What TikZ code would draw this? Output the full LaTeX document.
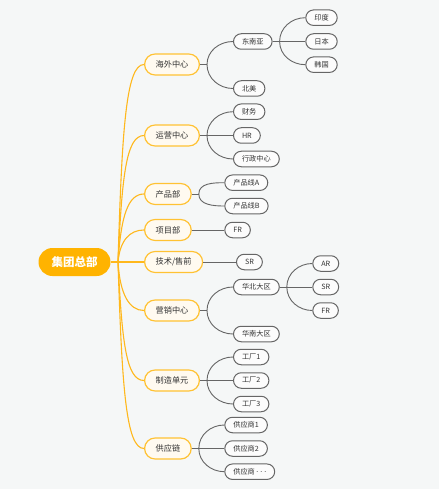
\documentclass[tikz,border=0pt]{standalone}
\usepackage{fontspec}
\setmainfont{Noto Sans CJK SC}
\newfontfamily\latinf{Noto Sans}
\definecolor{bg}{HTML}{F5F7F7}
\definecolor{rootfill}{HTML}{FFB300}
\definecolor{lonefill}{HTML}{FFFAF0}
\definecolor{loneborder}{HTML}{FFC233}
\definecolor{oline}{HTML}{FFB81C}
\definecolor{gline}{HTML}{666666}
\definecolor{txt}{HTML}{333333}
\definecolor{ltwofill}{HTML}{FCFCFC}
\tikzset{
  rootbox/.style={draw=none, fill=rootfill, rounded corners=14pt, minimum height=28pt, inner xsep=13pt, inner ysep=0pt, text=white, font=\fontsize{11.5}{13}\selectfont\bfseries},
  lonebox/.style={draw=loneborder, line width=1.2pt, fill=lonefill, rounded corners=10.5pt, minimum height=21pt, inner xsep=11pt, inner ysep=0pt, text=txt, font=\fontsize{8.2}{10}\selectfont, anchor=west},
  ltwobox/.style={draw=gline, line width=1pt, fill=ltwofill, rounded corners=7.75pt, minimum height=15.5pt, inner xsep=8.5pt, inner ysep=0pt, text=txt, font=\fontsize{7.2}{9}\selectfont, anchor=west},
  oconn/.style={draw=oline, line width=1.1pt},
  gconn/.style={draw=gline, line width=0.9pt},
}
\begin{document}
\begin{tikzpicture}[x=1pt,y=-1pt]
\useasboundingbox[fill=bg] (0,0) rectangle (439,489);
% root
\node[rootbox] (root) at (74.5,262) {集团总部};
\coordinate (hub) at (118,262);
% level 1
\node[lonebox] (haiwai) at (144,64.5) {海外中心};
\node[lonebox] (yunying) at (144,135.5) {运营中心};
\node[lonebox] (chanpin) at (144,194) {产品部};
\node[lonebox] (xiangmu) at (144,230) {项目部};
\node[lonebox] (jishu) at (144,262) {技术/售前};
\node[lonebox] (yingxiao) at (144,310.5) {营销中心};
\node[lonebox] (zhizao) at (144,380.5) {制造单元};
\node[lonebox] (gongying) at (144,448.5) {供应链};
% root connectors
\draw[oconn] (root.east) -- (jishu.west);
\draw[oconn] (hub) .. controls +(4,-132) and +(-18,0) .. (haiwai.west);
\draw[oconn] (hub) .. controls +(4,-85) and +(-18,0) .. (yunying.west);
\draw[oconn] (hub) .. controls +(3,-46) and +(-16,0) .. (chanpin.west);
\draw[oconn] (hub) .. controls +(2,-22) and +(-14,0) .. (xiangmu.west);
\draw[oconn] (hub) .. controls +(2,32) and +(-15,0) .. (yingxiao.west);
\draw[oconn] (hub) .. controls +(4,79) and +(-18,0) .. (zhizao.west);
\draw[oconn] (hub) .. controls +(4,125) and +(-18,0) .. (gongying.west);
% level 2
\node[ltwobox] (dny) at (233,41.5) {东南亚};
\node[ltwobox] (beimei) at (233,88.5) {北美};
\node[ltwobox] (caiwu) at (233,111.7) {财务};
\node[ltwobox] (hr) at (233,135.5) {HR};
\node[ltwobox] (xingzheng) at (233,159) {行政中心};
\node[ltwobox] (cpa) at (224.3,182.7) {产品线A};
\node[ltwobox] (cpb) at (224.3,206) {产品线B};
\node[ltwobox] (fr) at (224.3,230) {FR};
\node[ltwobox] (sr) at (236,262) {SR};
\node[ltwobox] (huabei) at (233,287) {华北大区};
\node[ltwobox] (huanan) at (233,334) {华南大区};
\node[ltwobox] (gc1) at (233,357) {工厂1};
\node[ltwobox] (gc2) at (233,380.5) {工厂2};
\node[ltwobox] (gc3) at (233,404) {工厂3};
\node[ltwobox] (gys1) at (224.3,425) {供应商1};
\node[ltwobox] (gys2) at (224.3,448.5) {供应商2};
\node[ltwobox] (gys3) at (224.3,471.7) {供应商{\latinf\hspace{1.5pt}·\hspace{2pt}·\hspace{2pt}·\hspace{0.5pt}}};
% level 3
\node[ltwobox] (yindu) at (305.3,17.7) {印度};
\node[ltwobox] (riben) at (305.3,41.5) {日本};
\node[ltwobox] (hanguo) at (305.3,64.7) {韩国};
\node[ltwobox] (ar) at (312.3,263.5) {AR};
\node[ltwobox] (sr2) at (312.3,287) {SR};
\node[ltwobox] (fr2) at (312.3,310.5) {FR};
% forks
\coordinate (fhw) at ([xshift=7pt]haiwai.east);
\coordinate (fyy) at ([xshift=7pt]yunying.east);
\coordinate (fcp) at ([xshift=7pt]chanpin.east);
\coordinate (fyx) at ([xshift=7pt]yingxiao.east);
\coordinate (fzz) at ([xshift=7pt]zhizao.east);
\coordinate (fgy) at ([xshift=7pt]gongying.east);
\coordinate (fdny) at ([xshift=7pt]dny.east);
\coordinate (fhb) at ([xshift=7pt]huabei.east);
% gray connectors
\draw[gconn] (haiwai.east) -- (fhw);
\draw[gconn] (fhw) to[out=90,in=180] (dny.west);
\draw[gconn] (fhw) to[out=-90,in=180] (beimei.west);
\draw[gconn] (dny.east) -- (riben.west);
\draw[gconn] (fdny) to[out=90,in=180] (yindu.west);
\draw[gconn] (fdny) to[out=-90,in=180] (hanguo.west);
\draw[gconn] (yunying.east) -- (hr.west);
\draw[gconn] (fyy) to[out=90,in=180] (caiwu.west);
\draw[gconn] (fyy) to[out=-90,in=180] (xingzheng.west);
\draw[gconn] (chanpin.east) -- (fcp);
\draw[gconn] (fcp) to[out=90,in=180] (cpa.west);
\draw[gconn] (fcp) to[out=-90,in=180] (cpb.west);
\draw[gconn] (xiangmu.east) -- (fr.west);
\draw[gconn] (jishu.east) -- (sr.west);
\draw[gconn] (yingxiao.east) -- (fyx);
\draw[gconn] (fyx) to[out=90,in=180] (huabei.west);
\draw[gconn] (fyx) to[out=-90,in=180] (huanan.west);
\draw[gconn] (huabei.east) -- (sr2.west);
\draw[gconn] (fhb) to[out=90,in=180] (ar.west);
\draw[gconn] (fhb) to[out=-90,in=180] (fr2.west);
\draw[gconn] (zhizao.east) -- (gc2.west);
\draw[gconn] (fzz) to[out=90,in=180] (gc1.west);
\draw[gconn] (fzz) to[out=-90,in=180] (gc3.west);
\draw[gconn] (gongying.east) -- (gys2.west);
\draw[gconn] (fgy) to[out=90,in=180] (gys1.west);
\draw[gconn] (fgy) to[out=-90,in=180] (gys3.west);
\end{tikzpicture}
\end{document}
